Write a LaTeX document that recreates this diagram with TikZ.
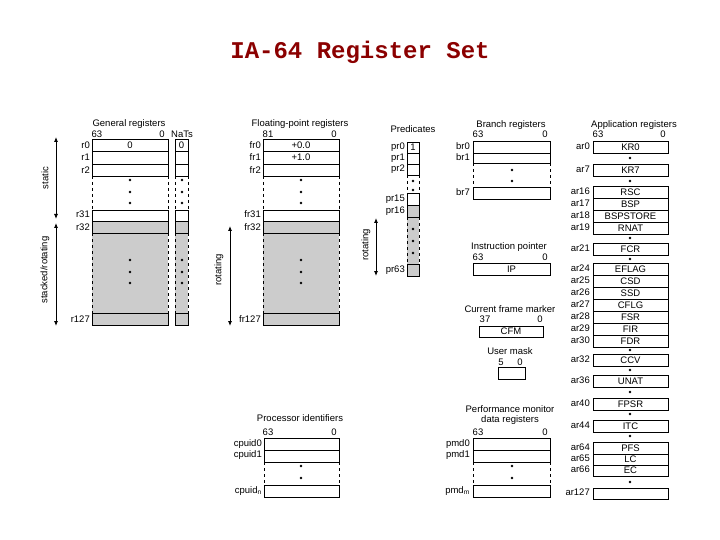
\documentclass[tikz,border=0pt]{standalone}
\usepackage{fontspec}
\setmainfont{Liberation Sans}
\newfontfamily\ttl{Liberation Mono}
\usetikzlibrary{arrows.meta}
\definecolor{ttlred}{HTML}{8B0000}
\definecolor{regshade}{HTML}{CCCCCC}
\newcommand\rgbx[6]{\filldraw[fill=#5,draw=black,line width=0.7pt] (#1,#3) rectangle (#2,#4); \node[txt] at ({(#1+#2)/2},{(#3+#4)/2}) {#6};}
\newcommand\dsh[4]{\draw[dashed,line width=0.7pt,dash pattern=on 3pt off 3pt] (#1,#3) -- (#1,#4) (#2,#3) -- (#2,#4);}
\newcommand\dt[2]{\fill (#1,#2) circle (1.3);}
\newcommand\lbl[3]{\node[txt,anchor=east] at ({#1},{#2}) {#3};}
\begin{document}
\begin{tikzpicture}[x=1pt,y=-1pt,txt/.style={inner sep=0pt,font=\fontsize{9.5}{10}\selectfont},
  arr/.style={{Latex[length=5pt,width=4pt]}-{Latex[length=5pt,width=4pt]},line width=0.8pt}]
\useasboundingbox (0,0) rectangle (720,540);
\node[font=\ttl\bfseries\fontsize{24}{26}\selectfont,text=ttlred] (title) at (360,52) {IA-64 Register Set};
% General registers
\node[txt] at (129,124) {General registers};
\node[txt] at (97,134) {63}; \node[txt] at (162,134) {0}; \node[txt] at (182,134) {NaTs};
\rgbx{92}{168}{139}{151}{white}{0} \rgbx{92}{168}{151}{164}{white}{} \rgbx{92}{168}{164}{176}{white}{}
\dsh{92}{168}{176}{210} \dt{130}{180}\dt{130}{192}\dt{130}{203}
\rgbx{92}{168}{210}{221}{white}{}
\fill[regshade] (92,221) rectangle (168,325);
\rgbx{92}{168}{221}{233}{regshade}{}
\dsh{92}{168}{233}{313} \dt{130}{260}\dt{130}{272}\dt{130}{283}
\rgbx{92}{168}{313}{325}{regshade}{}
\rgbx{175}{188}{139}{151}{white}{0} \rgbx{175}{188}{151}{164}{white}{} \rgbx{175}{188}{164}{176}{white}{}
\dsh{175}{188}{176}{210} \dt{182}{180}\dt{182}{192}\dt{182}{203}
\rgbx{175}{188}{210}{221}{white}{}
\fill[regshade] (175,221) rectangle (188,325);
\rgbx{175}{188}{221}{233}{regshade}{}
\dsh{175}{188}{233}{313} \dt{182}{260}\dt{182}{272}\dt{182}{283}
\rgbx{175}{188}{313}{325}{regshade}{}
\lbl{90}{145}{r0}\lbl{90}{157}{r1}\lbl{90}{170}{r2}\lbl{90}{214}{r31}\lbl{90}{227}{r32}\lbl{90}{319}{r127}
\coordinate (s1) at (56,137); \coordinate (s2) at (56,219); \coordinate (s3) at (56,223); \coordinate (s4) at (56,326);
\draw[arr] (s1) -- (s2); \draw[arr] (s3) -- (s4);
\node[txt,rotate=90] at (45,178) {static};
\node[txt,rotate=90] at (45,270) {stacked/rotating};
% Floating point
\node[txt] at (300,124) {Floating-point registers};
\node[txt] at (268,134) {81}; \node[txt] at (334,134) {0};
\rgbx{263}{339}{139}{151}{white}{+0.0} \rgbx{263}{339}{151}{164}{white}{+1.0} \rgbx{263}{339}{164}{176}{white}{}
\dsh{263}{339}{176}{210} \dt{301}{180}\dt{301}{192}\dt{301}{203}
\rgbx{263}{339}{210}{221}{white}{}
\fill[regshade] (263,221) rectangle (339,325);
\rgbx{263}{339}{221}{233}{regshade}{}
\dsh{263}{339}{233}{313} \dt{301}{260}\dt{301}{272}\dt{301}{283}
\rgbx{263}{339}{313}{325}{regshade}{}
\lbl{261}{145}{fr0}\lbl{261}{157}{fr1}\lbl{261}{170}{fr2}\lbl{261}{214}{fr31}\lbl{261}{227}{fr32}\lbl{261}{319}{fr127}
\coordinate (f1) at (230,226); \coordinate (f2) at (230,326);
\draw[arr] (f1) -- (f2);
\node[txt,rotate=90] at (219,270) {rotating};
% Predicates
\node[txt] at (413,129) {Predicates};
\rgbx{407}{419}{142}{153}{white}{1} \rgbx{407}{419}{153}{164}{white}{} \rgbx{407}{419}{164}{175}{white}{}
\dsh{407}{419}{175}{193} \dt{413}{181}\dt{413}{190}
\rgbx{407}{419}{193}{205}{white}{}
\fill[regshade] (407,205) rectangle (419,276);
\rgbx{407}{419}{205}{217}{regshade}{}
\dsh{407}{419}{217}{264} \dt{413}{229}\dt{413}{241}\dt{413}{253}
\rgbx{407}{419}{264}{276}{regshade}{}
\lbl{405}{147}{pr0}\lbl{405}{158}{pr1}\lbl{405}{169}{pr2}\lbl{405}{199}{pr15}\lbl{405}{211}{pr16}\lbl{405}{270}{pr63}
\coordinate (p1) at (376,218); \coordinate (p2) at (376,276);
\draw[arr] (p1) -- (p2);
\node[txt,rotate=90] at (366,245) {rotating};
% Branch
\node[txt] at (511,125) {Branch registers};
\node[txt] at (478,134) {63}; \node[txt] at (545,134) {0};
\rgbx{473}{550}{141}{153}{white}{} \rgbx{473}{550}{153}{163}{white}{}
\dsh{473}{550}{163}{187} \dt{512}{170}\dt{512}{181}
\rgbx{473}{550}{187}{199}{white}{}
\lbl{470}{146}{br0}\lbl{470}{157}{br1}\lbl{470}{192}{br7}
% IP
\node[txt] at (509,247) {Instruction pointer};
\node[txt] at (478,257) {63}; \node[txt] at (545,257) {0};
\rgbx{473}{550}{263}{275}{white}{IP}
% CFM
\node[txt] at (510,309) {Current frame marker};
\node[txt] at (485,319) {37}; \node[txt] at (540,319) {0};
\rgbx{479}{543}{326}{337}{white}{CFM}
\node[txt] at (510,351) {User mask};
\node[txt] at (501,362) {5}; \node[txt] at (520,362) {0};
\rgbx{498}{525}{367}{379}{white}{}
% Application
\node[txt] at (634,125) {Application registers};
\node[txt] at (598,134) {63}; \node[txt] at (663,134) {0};
\foreach \t/\b/\n/\l in {141/153/ar0/KR0,164/176/ar7/KR7,186/198/ar16/RSC,198/210/ar17/BSP,210/222/ar18/BSPSTORE,222/234/ar19/RNAT,243/255/ar21/FCR,263/275/ar24/EFLAG,275/287/ar25/CSD,287/299/ar26/SSD,299/311/ar27/CFLG,311/323/ar28/FSR,323/335/ar29/FIR,335/347/ar30/FDR,354/366/ar32/CCV,375/387/ar36/UNAT,398/410/ar40/FPSR,420/432/ar44/ITC,442/454/ar64/PFS,454/465/ar65/LC,465/476/ar66/EC,488/499/ar127/{}}{
  \rgbx{593}{668}{\t}{\b}{white}{\l}
  \lbl{590}{(\t+\b)/2-1}{\n}
}
\foreach \y in {158,181,238,259,350,370,392,414,436,482} {\dt{630}{\y}}
% Processor identifiers
\node[txt] at (300,418) {Processor identifiers};
\node[txt] at (268,432) {63}; \node[txt] at (334,432) {0};
\rgbx{264}{339}{438}{450}{white}{} \rgbx{264}{339}{450}{462}{white}{}
\dsh{264}{339}{462}{485} \dt{301}{466}\dt{301}{478}
\rgbx{264}{339}{485}{497}{white}{}
\lbl{262}{444}{cpuid0}\lbl{262}{455}{cpuid1}\lbl{262}{491}{cpuid$_\mathrm{n}$}
% PMD
\node[txt] at (510,409) {Performance monitor};
\node[txt] at (510,420) {data registers};
\node[txt] at (478,432) {63}; \node[txt] at (545,432) {0};
\rgbx{473}{550}{438}{450}{white}{} \rgbx{473}{550}{450}{462}{white}{}
\dsh{473}{550}{462}{485} \dt{512}{466}\dt{512}{478}
\rgbx{473}{550}{485}{497}{white}{}
\lbl{470}{444}{pmd0}\lbl{470}{455}{pmd1}\lbl{470}{491}{pmd$_\mathrm{m}$}
\end{tikzpicture}
\end{document}
